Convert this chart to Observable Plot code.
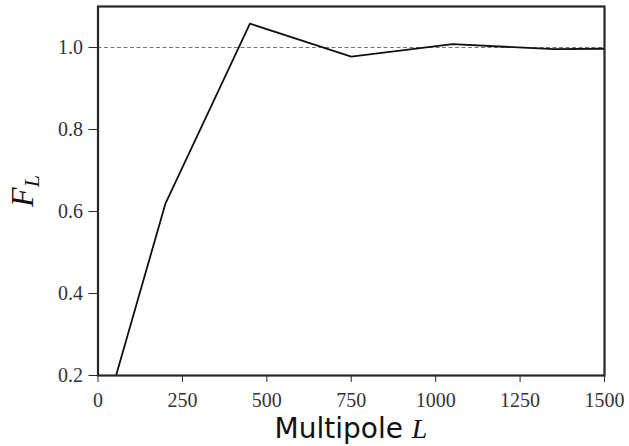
<!DOCTYPE html>
<html>
<head>
<meta charset="utf-8">
<script src="https://cdn.jsdelivr.net/npm/d3@7"></script>
<script src="https://cdn.jsdelivr.net/npm/@observablehq/plot@0.6"></script>
<style>
  html, body { margin: 0; padding: 0; background: #fff; }
  #chart svg { display: block; }
</style>
</head>
<body>
<div id="chart"></div>
<script>
// Data
const multipoleL = [50, 200, 450, 750, 1050, 1350, 1500];
const fractionF = [0.19, 0.62, 1.058, 0.978, 1.008, 0.996, 0.997];
const xTicks = [0, 250, 500, 750, 1000, 1250, 1500];
const yTicks = [0.2, 0.4, 0.6, 0.8, 1.0];
const referenceLevel = [1.0];

const data = multipoleL.map((L, i) => ({L, F: fractionF[i]}));

const plot = Plot.plot({
  width: 629,
  height: 446,
  marginLeft: 97.5,
  marginRight: 25,
  marginTop: 6,
  marginBottom: 71,
  style: {color: "#2a2a2a"},
  x: {domain: [0, 1500], label: null},
  y: {domain: [0.2, 1.1], label: null},
  marks: [
    Plot.ruleY(referenceLevel, {stroke: "#777", strokeWidth: 1, strokeDasharray: "4,2.5"}),
    Plot.line(data, {x: "L", y: "F", stroke: "#111", strokeWidth: 1.8, clip: true}),
    Plot.frame({stroke: "#262626", strokeWidth: 2.2}),
    Plot.axisX({ticks: xTicks, tickSize: 7, tickPadding: 10, fontFamily: "Liberation Serif", fontSize: 20, label: null, tickFormat: d3.format("d")}),
    Plot.axisY({ticks: yTicks, tickSize: 9, tickPadding: 6, fontFamily: "Liberation Serif", fontSize: 20, label: null, tickFormat: d3.format(".1f")})
  ]
});

document.getElementById("chart").appendChild(plot);

const svg = d3.select(plot);

// Force the serif tick-label face/size on every Plot-generated text (and its content)
svg.selectAll("text").each(function () {
  const t = d3.select(this);
  t.style("font-family", "'Liberation Serif', serif", "important")
   .style("font-size", "20px", "important")
   .style("fill", "#333", "important");
  const content = this.textContent;
  if (this.children.length === 0 && content) {
    this.textContent = "";
    t.append("tspan")
      .attr("font-family", "Liberation Serif")
      .attr("font-size", 20)
      .style("font-family", "'Liberation Serif', serif", "important")
      .style("font-size", "20px", "important")
      .text(content);
  }
});

// x-axis label: "Multipole L"
const xl = svg.append("text")
  .attr("x", 351)
  .attr("y", 438)
  .attr("text-anchor", "middle")
  .attr("fill", "#111")
  .attr("font-size", 28);
xl.append("tspan").attr("font-family", "DejaVu Sans").text("Multipole ");
xl.append("tspan").attr("font-family", "Liberation Serif").attr("font-style", "italic").text("L");

// y-axis label: F_L
const yl = svg.append("text")
  .attr("transform", "translate(33,191) rotate(-90)")
  .attr("text-anchor", "middle")
  .attr("fill", "#111")
  .attr("font-family", "Liberation Serif")
  .attr("font-style", "italic")
  .attr("font-size", 32);
yl.append("tspan").text("F");
yl.append("tspan").attr("dy", "0.25em").attr("font-size", 22).text("L");
</script>
</body>
</html>
